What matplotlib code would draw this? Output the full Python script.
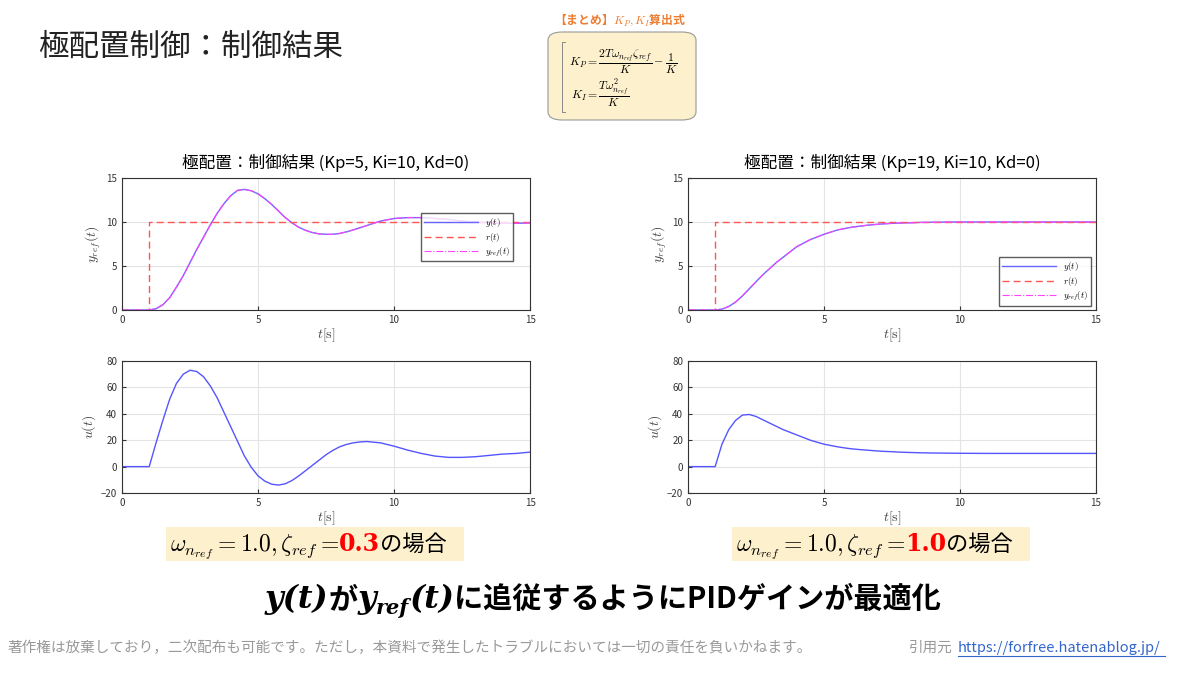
import matplotlib
matplotlib.use("Agg")
import matplotlib.pyplot as plt
from matplotlib.patches import FancyBboxPatch, Rectangle

plt.rcParams['font.family'] = ['Noto Sans CJK JP', 'DejaVu Sans']
plt.rcParams['mathtext.fontset'] = 'cm'

t = [0, 0.5, 1, 1.25, 1.5, 1.75, 2, 2.25, 2.5, 2.75, 3, 3.25, 3.5, 3.75, 4, 4.25, 4.5, 4.75,
     5, 5.25, 5.5, 5.75, 6, 6.25, 6.5, 6.75, 7, 7.25, 7.5, 7.75, 8, 8.25, 8.5, 8.75, 9,
     9.5, 10, 10.5, 11, 11.5, 12, 12.5, 13, 13.5, 14, 14.5, 15]
y_left = [0, 0, 0, 0.15, 0.6, 1.4, 2.6, 3.9, 5.4, 6.9, 8.3, 9.7, 11.0, 12.1, 13.0, 13.6, 13.7, 13.55,
          13.2, 12.65, 12.0, 11.25, 10.5, 9.9, 9.4, 9.05, 8.8, 8.65, 8.6, 8.6, 8.7, 8.88, 9.1, 9.35, 9.6,
          10.1, 10.4, 10.5, 10.5, 10.4, 10.3, 10.1, 10.0, 9.9, 9.85, 9.85, 9.9]
u_left = [0, 0, 0, 18, 35, 51, 63, 70, 73, 72, 68, 61, 52, 41, 30, 19, 8, -0.5,
          -7, -11, -13.3, -14, -13, -10.5, -7, -3, 1, 5, 9, 12.3, 15, 16.8, 18, 18.7, 19,
          18, 15.5, 12.5, 10, 8, 7, 7, 7.5, 8.5, 9.5, 10, 11]
y_right = [0, 0, 0, 0.1, 0.4, 0.9, 1.6, 2.4, 3.2, 4.0, 4.7, 5.4, 6.0, 6.6, 7.2, 7.6, 8.0, 8.3,
           8.6, 8.85, 9.1, 9.25, 9.4, 9.5, 9.6, 9.68, 9.75, 9.8, 9.85, 9.88, 9.9, 9.92, 9.95, 9.96, 9.97,
           9.99, 10, 10, 10, 10, 10, 10, 10, 10, 10, 10, 10]
u_right = [0, 0, 0, 17, 28, 35, 39, 39.5, 38, 35.5, 33, 30.5, 28, 26, 24, 22, 20, 18.5,
           17, 16, 15, 14.2, 13.5, 13, 12.6, 12.2, 11.8, 11.5, 11.3, 11.0, 10.8, 10.65, 10.5, 10.4, 10.3,
           10.2, 10.1, 10.05, 10, 10, 10, 10, 10, 10, 10, 10, 10]
r_t = [0, 1, 1, 15]
r_v = [0, 0, 10, 10]

titles = ["極配置：制御結果 (Kp=5, Ki=10, Kd=0)", "極配置：制御結果 (Kp=19, Ki=10, Kd=0)"]
zetas = ["0.3", "1.0"]

fig = plt.figure(figsize=(12, 6.75), dpi=100)
fig.patch.set_facecolor('white')

def style(ax, ylim, yticks, ylabel):
    ax.set_xlim(0, 15)
    ax.set_ylim(*ylim)
    ax.set_xticks([0, 5, 10, 15])
    ax.set_yticks(yticks)
    ax.grid(True, color='#e4e4e4', lw=0.8)
    ax.tick_params(labelsize=7, colors='#333333', direction='in', length=3)
    for s in ax.spines.values():
        s.set_color('#333333'); s.set_linewidth(0.8)
    ax.set_xlabel(r'$t[\mathrm{s}]$', fontsize=10, color='#444444', labelpad=1)
    ax.set_ylabel(ylabel, fontsize=10, color='#444444', labelpad=2)

for i, (left, y, u) in enumerate([(0.1017, y_left, u_left), (0.5733, y_right, u_right)]):
    ax1 = fig.add_axes([left, 0.5407, 0.34, 0.1956])
    ax1.plot(t, y, color='#6666ff', lw=1.0, label=r'$y(t)$')
    ax1.plot(r_t, r_v, color='#ff5555', lw=1.0, ls=(0, (5, 3)), label=r'$r(t)$')
    ax1.plot(t, y, color='#ff44ff', lw=0.8, ls='-.', label=r'$y_{ref}(t)$')
    style(ax1, (0, 15), [0, 5, 10, 15], r'$y_{ref}(t)$')
    ax1.set_title(titles[i], fontsize=12, pad=7)
    if i == 0:
        ax1.legend(loc='center right', bbox_to_anchor=(0.97, 0.55), fontsize=6.5, fancybox=False,
                   edgecolor='#333333', handlelength=6, borderpad=0.3, labelspacing=0.2)
    else:
        ax1.legend(loc='lower right', fontsize=6.5, fancybox=False, edgecolor='#333333',
                   handlelength=6, borderpad=0.3, labelspacing=0.2)
    ax2 = fig.add_axes([left, 0.2696, 0.34, 0.1956])
    ax2.plot(t, u, color='#5555ff', lw=1.0)
    style(ax2, (-20, 80), [-20, 0, 20, 40, 60, 80], r'$u(t)$')

fig.canvas.draw()
renderer = fig.canvas.get_renderer()

def chain(x0, yb, parts):
    x = x0
    texts = []
    for s, kw in parts:
        tx = fig.text(x, yb, s, va='baseline', **kw)
        w = tx.get_window_extent(renderer).width / fig.bbox.width
        texts.append(tx)
        x += w
    return texts, x - x0

# condition labels
for i in range(2):
    cx = 170 / 1200 if i == 0 else 736 / 1200
    fig.patches.append(Rectangle((cx - 0.003, 1 - 561 / 675), 298 / 1200, 34 / 675,
                                 transform=fig.transFigure, facecolor='#fdf0cc',
                                 edgecolor='none', zorder=0))
    chain(cx, 1 - 551 / 675, [
        (r'$\omega_{n_{ref}}=1.0,\zeta_{ref}=\,$', dict(fontsize=17)),
        (zetas[i], dict(fontsize=17, color='#ff0000', family='DejaVu Serif', weight='bold')),
        ('の場合', dict(fontsize=16)),
    ])

# big statement (centered)
parts = [('y(t)', dict(fontsize=23, family='DejaVu Serif', weight='bold', style='italic')),
         ('が', dict(fontsize=21, weight='bold')),
         ('y', dict(fontsize=23, family='DejaVu Serif', weight='bold', style='italic')),
         ('ref', dict(fontsize=15, family='DejaVu Serif', weight='bold', style='italic')),
         ('(t)', dict(fontsize=23, family='DejaVu Serif', weight='bold', style='italic')),
         ('に追従するようにPIDゲインが最適化', dict(fontsize=21, weight='bold'))]
texts, total = chain(0, 1 - 608 / 675, parts)
shift = 0.5 * 1.005 - total / 2
for k, tx in enumerate(texts):
    x, yy = tx.get_position()
    if k == 3:
        yy -= 6 / 675
    tx.set_position((x + shift, yy))

# main title
fig.text(38 / 1200, 1 - 47 / 675, '極配置制御：制御結果', fontsize=22, va='center', color='#222222')

# formula box
fig.patches.append(FancyBboxPatch((548 / 1200, 1 - 120 / 675), 148 / 1200, 88 / 675,
                                  boxstyle='round,pad=0,rounding_size=0.012',
                                  transform=fig.transFigure, facecolor='#fdf0cc',
                                  edgecolor='#999999', lw=0.8))
fig.text(620 / 1200, 1 - 20 / 675, '【まとめ】$K_P,K_I$算出式', fontsize=8.5,
         color='#ed7d31', weight='bold', ha='center', va='center')
fig.text(569 / 1200, 1 - 62 / 675,
         r'$K_P=\dfrac{2T\omega_{n_{ref}}\zeta_{ref}}{K}-\dfrac{1}{K}$',
         fontsize=8.5, va='center')
fig.text(571 / 1200, 1 - 94 / 675,
         r'$K_I=\dfrac{T\omega_{n_{ref}}^2}{K}$', fontsize=8.5, va='center')
fig.lines.append(plt.Line2D([565 / 1200, 562 / 1200, 562 / 1200, 565 / 1200],
                            [1 - 42 / 675, 1 - 42 / 675, 1 - 112 / 675, 1 - 112 / 675],
                            transform=fig.transFigure, color='#888888', lw=0.7))

# footer
fig.text(8 / 1200, 1 - 648 / 675,
         '著作権は放棄しており，二次配布も可能です。ただし，本資料で発生したトラブルにおいては一切の責任を負いかねます。',
         fontsize=10.5, color='#999999', va='center')
fig.text(909 / 1200, 1 - 648 / 675, '引用元', fontsize=10.5, color='#999999', va='center')
fig.text(958 / 1200, 1 - 648 / 675, 'https://forfree.hatenablog.jp/', fontsize=10.5,
         color='#3366cc', va='center')
fig.lines.append(plt.Line2D([958 / 1200, 1165 / 1200], [1 - 656 / 675, 1 - 656 / 675],
                            transform=fig.transFigure, color='#3366cc', lw=0.8))

fig.savefig('out.png', dpi=100, facecolor='white')
